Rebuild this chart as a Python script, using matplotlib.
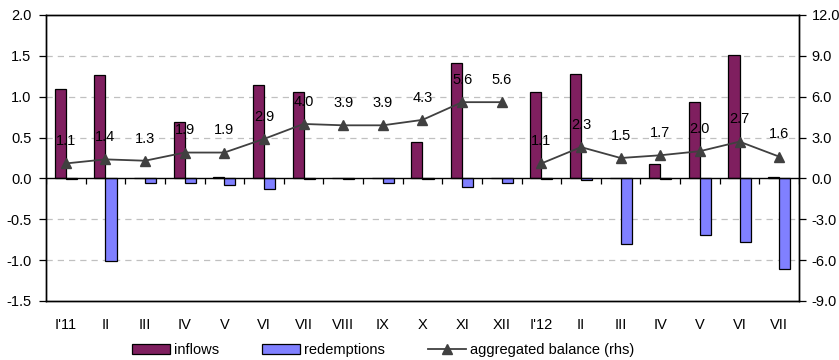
import matplotlib
matplotlib.use("Agg")
import matplotlib.pyplot as plt
import numpy as np
from matplotlib.lines import Line2D
from matplotlib.patches import Patch

plt.rcParams['font.family'] = ['Liberation Sans', 'DejaVu Sans']
plt.rcParams['font.size'] = 10.5

categories = ["I'11", "II", "III", "IV", "V", "VI", "VII", "VIII", "IX", "X", "XI", "XII",
              "I'12", "II", "III", "IV", "V", "VI", "VII"]
inflows = [1.09, 1.27, 0.005, 0.69, 0.02, 1.14, 1.06, 0.0, 0.0, 0.44, 1.41, 0.0,
           1.06, 1.28, 0.0, 0.18, 0.94, 1.51, 0.02]
redemptions = [-0.005, -1.01, -0.06, -0.06, -0.08, -0.13, -0.01, -0.01, -0.06, -0.01, -0.10, -0.05,
               -0.01, -0.02, -0.80, -0.01, -0.69, -0.78, -1.11]
balance = [1.1, 1.4, 1.3, 1.9, 1.9, 2.9, 4.0, 3.9, 3.9, 4.3, 5.6, 5.6,
           1.1, 2.3, 1.5, 1.7, 2.0, 2.7, 1.6]
year_starts = [0, 12, 19]

left_ticks = [-1.5, -1.0, -0.5, 0.0, 0.5, 1.0, 1.5, 2.0]
right_ticks = [-9.0, -6.0, -3.0, 0.0, 3.0, 6.0, 9.0, 12.0]

c_in = '#7F1F5F'
c_out = '#8080FF'
c_line = '#404040'

fig = plt.figure(figsize=(8.39, 3.6), dpi=100)
ax = fig.add_axes([46/839, 1-301/360, (799-46)/839, 286/360])
ax2 = ax.twinx()

x = np.arange(len(categories))
w = 0.28
ax.bar(x - w/2, inflows, w, color=c_in, edgecolor='black', linewidth=0.9, zorder=3)
ax.bar(x + w/2, redemptions, w, color=c_out, edgecolor='black', linewidth=0.9, zorder=3)

ax.set_ylim(left_ticks[0], left_ticks[-1])
ax.set_xlim(-0.5, len(categories) - 0.5)
ax.set_yticks(left_ticks)
ax.set_yticklabels([f"{v:.1f}" for v in left_ticks])
for v in left_ticks:
    if v not in (0.0, left_ticks[0], left_ticks[-1]):
        ax.axhline(v, color='#C0C0C0', linestyle=(0, (5, 4)), linewidth=0.9, zorder=1)
ax.axhline(0, color='black', linewidth=1.0, zorder=4)

# category tick marks hanging below the zero line
y0 = (0 - left_ticks[0]) / (left_ticks[-1] - left_ticks[0])
ax.vlines(np.arange(len(categories) + 1) - 0.5, y0 - 0.018, y0,
          transform=ax.get_xaxis_transform(), color='black', linewidth=0.9, zorder=4)

ax.set_xticks(x)
ax.set_xticklabels(categories)
ax.tick_params(axis='x', length=0, pad=12)
ax.tick_params(axis='y', direction='out', length=5, width=0.9, pad=5.5)

ax2.set_ylim(right_ticks[0], right_ticks[-1])
ax2.set_yticks(right_ticks)
ax2.set_yticklabels([f"{v:.1f}" for v in right_ticks])
ax2.tick_params(axis='y', direction='out', length=5, width=0.9, pad=4)

for a in (ax, ax2):
    for s in a.spines.values():
        s.set_linewidth(1.0)
        s.set_color('black')

for s, e in zip(year_starts[:-1], year_starts[1:]):
    ax2.plot(x[s:e], balance[s:e], color=c_line, linewidth=1.3, marker='^',
             markersize=7.5, markerfacecolor=c_line, markeredgecolor=c_line, zorder=5)
for xi, b in zip(x, balance):
    ax2.annotate(f"{b:.1f}", (xi, b), xytext=(0, 16), textcoords='offset points',
                 ha='center', va='center', fontsize=10.5, color='black', zorder=6)

handles = [Patch(facecolor=c_in, edgecolor='black', linewidth=0.9),
           Patch(facecolor=c_out, edgecolor='black', linewidth=0.9),
           Line2D([], [], color=c_line, linewidth=1.3, marker='^', markersize=7,
                  markerfacecolor=c_line)]
fig.legend(handles, ['inflows', 'redemptions', 'aggregated balance (rhs)'],
           loc='center', bbox_to_anchor=(383/839, 1-350/360), ncol=3, frameon=False,
           handlelength=2.6, handleheight=0.62, handletextpad=0.27, columnspacing=2.95,
           fontsize=10.5)

fig.savefig('out.png', dpi=100)
